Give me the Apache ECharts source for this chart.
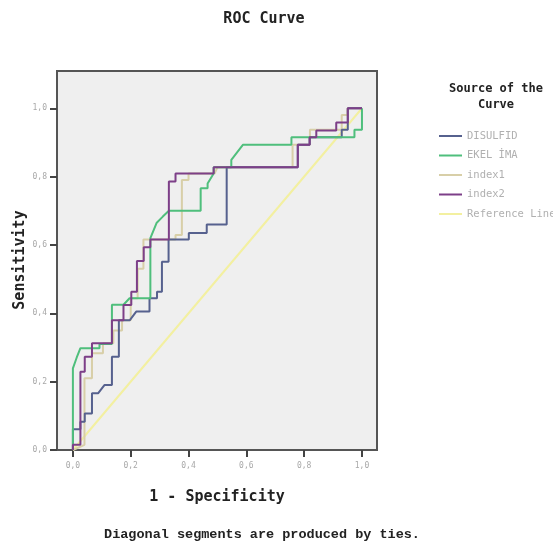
<!DOCTYPE html>
<html>
<head>
<meta charset="utf-8">
<script src="https://cdn.jsdelivr.net/npm/echarts@6/dist/echarts.min.js"></script>
<style>
  html, body { margin: 0; padding: 0; background: #fff; }
  #chart { width: 553px; height: 542px; }
</style>
</head>
<body>
<div id="chart"></div>
<script>
// tick positions on both axes
const tickValues = [0, 0.2, 0.4, 0.6, 0.8, 1.0]

const seriesNames = ['DISULFID', 'EKEL İMA', 'index1', 'index2', 'Reference Line']

// [1 - specificity, sensitivity]
const disulfid = [
  [0, 0], [0, 0.061], [0.026, 0.061], [0.026, 0.083], [0.041, 0.083], [0.041, 0.107],
  [0.066, 0.107], [0.066, 0.166], [0.087, 0.166], [0.109, 0.19], [0.135, 0.19], [0.135, 0.273],
  [0.159, 0.273], [0.159, 0.38], [0.197, 0.38], [0.219, 0.405], [0.265, 0.405], [0.265, 0.444],
  [0.291, 0.444], [0.291, 0.463], [0.308, 0.463], [0.308, 0.551], [0.331, 0.551], [0.331, 0.616],
  [0.401, 0.616], [0.401, 0.635], [0.463, 0.635], [0.463, 0.66], [0.532, 0.66], [0.532, 0.827],
  [0.778, 0.827], [0.778, 0.893], [0.819, 0.893], [0.819, 0.915], [0.93, 0.915], [0.93, 0.937],
  [0.951, 0.937], [0.951, 1], [1, 1]
]
const ekelIma = [
  [0, 0], [0, 0.239], [0.013, 0.27], [0.026, 0.298], [0.092, 0.298], [0.092, 0.31],
  [0.135, 0.31], [0.135, 0.425], [0.175, 0.425], [0.196, 0.444], [0.268, 0.444], [0.268, 0.62],
  [0.29, 0.665], [0.311, 0.683], [0.332, 0.7], [0.442, 0.7], [0.442, 0.766], [0.466, 0.766],
  [0.466, 0.78], [0.487, 0.809], [0.487, 0.827], [0.548, 0.827], [0.548, 0.849], [0.588, 0.893],
  [0.756, 0.893], [0.756, 0.915], [0.974, 0.915], [0.974, 0.937], [1, 0.937], [1, 1]
]
const index1 = [
  [0, 0], [0.04, 0.015], [0.04, 0.21], [0.066, 0.21], [0.066, 0.283], [0.104, 0.283],
  [0.104, 0.312], [0.14, 0.312], [0.14, 0.35], [0.17, 0.35], [0.17, 0.38], [0.2, 0.38],
  [0.2, 0.444], [0.224, 0.444], [0.224, 0.53], [0.244, 0.53], [0.244, 0.616], [0.355, 0.616],
  [0.355, 0.629], [0.377, 0.629], [0.377, 0.79], [0.4, 0.79], [0.4, 0.809], [0.49, 0.809],
  [0.5, 0.827], [0.76, 0.827], [0.76, 0.893], [0.82, 0.893], [0.82, 0.937], [0.93, 0.937],
  [0.93, 0.98], [0.95, 0.98], [0.95, 1], [1, 1]
]
const index2 = [
  [0, 0], [0, 0.015], [0.026, 0.015], [0.026, 0.229], [0.041, 0.229], [0.041, 0.273],
  [0.066, 0.273], [0.066, 0.312], [0.135, 0.312], [0.135, 0.38], [0.175, 0.38], [0.175, 0.424],
  [0.202, 0.424], [0.202, 0.463], [0.2215, 0.463], [0.2215, 0.553], [0.245, 0.553], [0.245, 0.593],
  [0.268, 0.593], [0.268, 0.616], [0.332, 0.616], [0.332, 0.786], [0.355, 0.786], [0.355, 0.809],
  [0.487, 0.809], [0.487, 0.827], [0.778, 0.827], [0.778, 0.893], [0.819, 0.893], [0.819, 0.915],
  [0.842, 0.915], [0.842, 0.935], [0.911, 0.935], [0.911, 0.958], [0.951, 0.958], [0.951, 1], [1, 1]
]
const referenceLine = [[0, 0], [1, 1]]

const colors = ['#56618e', '#4fbf7c', '#d8cfa8', '#7d3f88', '#f3f0a0']
const mono = 'DejaVu Sans Mono'

const chart = echarts.init(document.getElementById('chart'))

function fmt(v) {
  return v.toFixed(1).replace('.', ',')
}

function lineSeries(name, data, color, width, z) {
  return {
    name: name,
    type: 'line',
    data: data,
    symbol: 'none',
    z: z,
    animation: false,
    lineStyle: { color: color, width: width },
    itemStyle: { color: color }
  }
}

chart.setOption({
  animation: false,
  grid: {
    left: 57, right: 176, top: 71, bottom: 92,
    show: true,
    backgroundColor: '#efefef',
    borderColor: '#555',
    borderWidth: 2
  },
  xAxis: {
    type: 'value',
    min: -0.055,
    max: 1.052,
    name: '1 - Specificity',
    nameLocation: 'middle',
    nameGap: 40,
    nameTextStyle: { fontFamily: mono, fontWeight: 'bold', fontSize: 15, color: '#222' },
    axisLine: { show: true, onZero: false, lineStyle: { color: '#555', width: 2 } },
    axisTick: { show: true, customValues: tickValues, length: 7, lineStyle: { color: '#444', width: 2 } },
    axisLabel: { customValues: tickValues, formatter: fmt, margin: 12, fontFamily: mono, fontSize: 8, color: '#a8a8a8' },
    splitLine: { show: false }
  },
  yAxis: {
    type: 'value',
    min: 0,
    max: 1.109,
    axisLine: { show: true, onZero: false, lineStyle: { color: '#555', width: 2 } },
    axisTick: { show: true, customValues: tickValues, length: 7, lineStyle: { color: '#444', width: 2 } },
    axisLabel: { customValues: tickValues, formatter: fmt, margin: 10, fontFamily: mono, fontSize: 8, color: '#a8a8a8' },
    splitLine: { show: false }
  },
  legend: {
    data: seriesNames,
    orient: 'vertical',
    left: 434,
    top: 125,
    itemWidth: 23,
    itemHeight: 2,
    itemGap: 7.5,
    icon: 'rect',
    textStyle: { fontFamily: mono, fontSize: 10.5, color: '#b0b0b0', lineHeight: 12 }
  },
  graphic: [
    {
      type: 'text', x: 264, y: 12,
      style: { text: 'ROC Curve', fontFamily: mono, fontWeight: 'bold', fontSize: 15, fill: '#222', align: 'center' }
    },
    {
      // y axis title, placed by hand so it can sit close to the tick labels
      type: 'text', x: 20, y: 260, rotation: Math.PI / 2,
      style: { text: 'Sensitivity', fontFamily: mono, fontWeight: 'bold', fontSize: 15, fill: '#222', align: 'center', verticalAlign: 'middle' }
    },
    {
      type: 'text', x: 496, y: 81,
      style: { text: 'Source of the\nCurve', fontFamily: mono, fontWeight: 'bold', fontSize: 12, lineHeight: 16, fill: '#222', align: 'center' }
    },
    {
      type: 'text', x: 262, y: 528,
      style: { text: 'Diagonal segments are produced by ties.', fontFamily: 'Liberation Mono', fontWeight: 'bold', fontSize: 13.5, fill: '#222', align: 'center' }
    }
  ],
  series: [
    lineSeries(seriesNames[0], disulfid, colors[0], 2, 3),
    lineSeries(seriesNames[1], ekelIma, colors[1], 2, 4),
    lineSeries(seriesNames[2], index1, colors[2], 2, 2),
    lineSeries(seriesNames[3], index2, colors[3], 2, 5),
    lineSeries(seriesNames[4], referenceLine, colors[4], 2, 1)
  ]
})
</script>
</body>
</html>
